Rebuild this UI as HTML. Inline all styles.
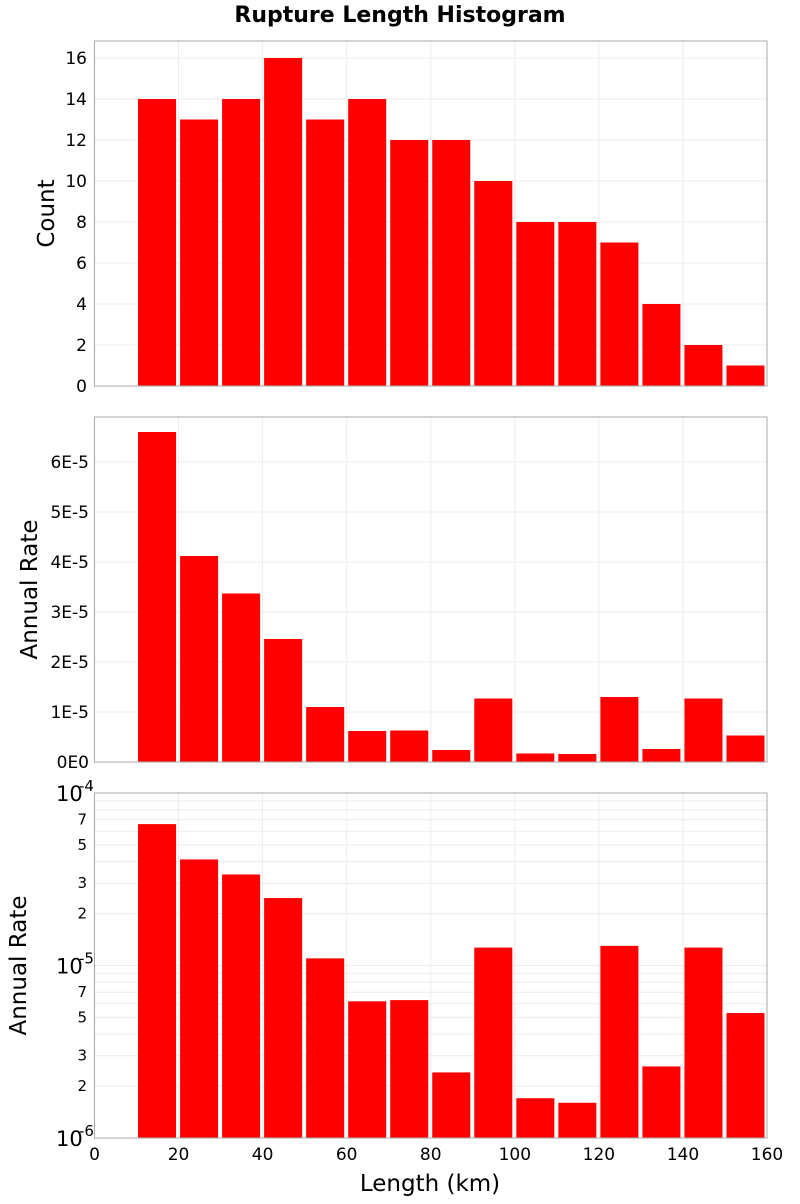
<!DOCTYPE html>
<html><head><meta charset="utf-8"><style>
body{margin:0;background:#fff;font-family:"DejaVu Sans","Liberation Sans",sans-serif}
svg text{font-family:"DejaVu Sans","Liberation Sans",sans-serif}
</style></head><body>
<svg id="chart" width="800" height="1200" xmlns="http://www.w3.org/2000/svg">
<text x="400" y="22" text-anchor="middle" font-size="22" font-weight="bold">Rupture Length Histogram</text>
</svg>
<script>
const binStarts=[10,20,30,40,50,60,70,80,90,100,110,120,130,140,150];
const binWidth=10;
const counts=[14,13,14,16,13,14,12,12,10,8,8,7,4,2,1];
const rates=[6.6e-5,4.12e-5,3.37e-5,2.46e-5,1.1e-5,0.62e-5,0.63e-5,0.24e-5,1.27e-5,0.17e-5,0.16e-5,1.3e-5,0.26e-5,1.27e-5,0.53e-5];
const xTicks=[0,20,40,60,80,100,120,140,160];
const countTicks=[0,2,4,6,8,10,12,14,16];
const rateTicks=[0,1e-5,2e-5,3e-5,4e-5,5e-5,6e-5];
const rateTickLabels=["0E0","1E-5","2E-5","3E-5","4E-5","5E-5","6E-5"];
const logMinorLabels=[2,3,5,7];

const svg=document.getElementById('chart');
const NS='http://www.w3.org/2000/svg';
const L=94.5,R=767;
const X=v=>L+(v/160)*(R-L);
function mk(tag,attrs,parent){const e=document.createElementNS(NS,tag);for(const k in attrs)e.setAttribute(k,attrs[k]);(parent||svg).appendChild(e);return e;}
function txt(x,y,s,size,anchor,parent){const t=mk('text',{x:x,y:y,'font-size':size,'text-anchor':anchor||'middle'},parent);t.textContent=s;return t;}

const panels=[{top:41,bot:386},{top:417,bot:762},{top:793,bot:1138}];

function frame(p,name){
  const g=mk('g',{});
  
  
  xTicks.forEach(v=>{const l=mk('line',{x1:X(v),x2:X(v),y1:p.top,y2:p.bot,stroke:'#ececec','stroke-width':1},g);
    
    });
  return g;
}
function border(p,g){const r=mk('rect',{x:L,y:p.top,width:R-L,height:p.bot-p.top,fill:'none',stroke:'#a8a8a8','stroke-width':1},g);
  
  }
function bars(g,vals,Y,bottom){
  vals.forEach((v,i)=>{const x0=X(binStarts[i])+1.5,x1=X(binStarts[i]+binWidth)-2.5;const y=Y(v);
    const r=mk('rect',{x:x0,y:y,width:x1-x0,height:bottom-y,fill:'#ff0000'},g);
    
    });
}

// Panel 1 counts
{const p=panels[0];const g=frame(p,'count-panel');
 const Y=v=>p.bot-v*(p.bot-p.top-(58-41))/16;
 countTicks.forEach(v=>{const l=mk('line',{x1:L,x2:R,y1:Y(v),y2:Y(v),stroke:'#ececec'},g);
   
   
   const t=txt(87,Y(v)+6,String(v),17,'end',g);
   
   });
 bars(g,counts,Y,p.bot);border(p,g);
 const t=mk('text',{x:54,y:(p.top+p.bot)/2,'font-size':23,'text-anchor':'middle',transform:`rotate(-90 54 ${(p.top+p.bot)/2})`},g);t.textContent='Count';
 
 }

// Panel 2 linear rates
{const p=panels[1];const g=frame(p,'rate-linear-panel');
 const Y=v=>p.bot-v/6e-5*(p.bot-462);
 rateTicks.forEach((v,i)=>{const l=mk('line',{x1:L,x2:R,y1:Y(v),y2:Y(v),stroke:'#ececec'},g);
   
   
   const t=txt(89,Y(v)+6,rateTickLabels[i],17,'end',g);
   
   });
 bars(g,rates,Y,p.bot);border(p,g);
 const cy=(p.top+p.bot)/2;
 const t=mk('text',{x:37,y:cy,'font-size':23,'text-anchor':'middle',transform:`rotate(-90 37 ${cy})`},g);t.textContent='Annual Rate';
 
 }

// Panel 3 log rates
{const p=panels[2];const g=frame(p,'rate-log-panel');
 const Y=v=>p.bot-(Math.log10(v)+6)/2*(p.bot-p.top);
 for(let d=-6;d<-4;d++){for(let m=1;m<10;m++){const v=m*Math.pow(10,d);
   const l=mk('line',{x1:L,x2:R,y1:Y(v),y2:Y(v),stroke:'#ececec'},g);
   
   
   if(logMinorLabels.includes(m)){const t=txt(87,Y(v)+5,String(m),15,'end',g);
     
     }}}
 [-6,-5,-4].forEach(d=>{const y=Y(Math.pow(10,d));
   const t=mk('text',{x:56,y:y+8,'font-size':21,'text-anchor':'start'},g);t.textContent='10';
   
   
   const s=mk('text',{x:79,y:y-2,'font-size':15,'text-anchor':'start'},g);s.textContent=String(d);
   
   });
 bars(g,rates,Y,p.bot);border(p,g);
 const cy=(p.top+p.bot)/2;
 const t=mk('text',{x:26,y:cy,'font-size':23,'text-anchor':'middle',transform:`rotate(-90 26 ${cy})`},g);t.textContent='Annual Rate';
 
 
 xTicks.forEach(v=>{const t=txt(X(v),1160,String(v),17,'middle',g);
   
   });
 const xt=txt(430,1191,'Length (km)',23,'middle',g);
 
 }
</script>
</body></html>
